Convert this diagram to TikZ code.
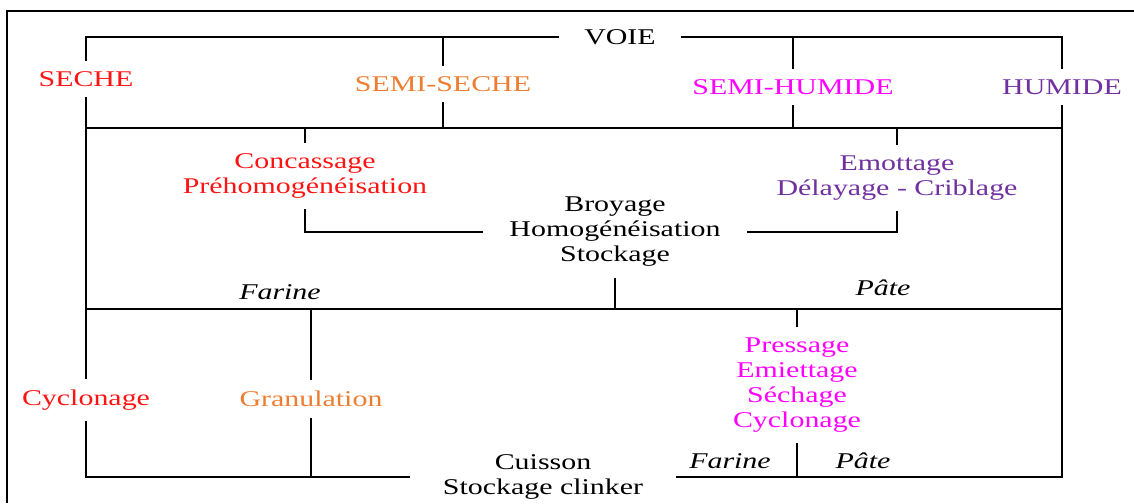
\documentclass[tikz,border=0pt]{standalone}
\usepackage{fontspec}
\setmainfont{Liberation Serif}[FakeStretch=1.33]
\usepackage{tikz}

\definecolor{secred}{RGB}{255,20,20}
\definecolor{semiorange}{RGB}{237,125,49}
\definecolor{hummagenta}{RGB}{255,0,255}
\definecolor{humpurple}{RGB}{112,48,160}

\begin{document}
\begin{tikzpicture}[x=1pt, y=-1pt, line width=1.8pt,
    txt/.style={font=\fontsize{22.5}{25}\selectfont, align=center, inner xsep=2pt, inner ysep=10pt},
    lbl/.style={font=\fontsize{22.5}{25}\selectfont\itshape, inner sep=0pt}]

	\useasboundingbox (0,0) rectangle (1134,503);
	\draw (7,503) -- (7,11) -- (1134,11);

	\coordinate (h2) at (0,128);
	\coordinate (h3) at (0,309);

	\node[txt, inner xsep=24pt] (voie) at (620,37) {VOIE};
	\node[txt, text=secred] (seche) at (86,79) {SECHE};
	\node[txt, text=semiorange] (semiseche) at (443,84) {SEMI-SECHE};
	\node[txt, text=hummagenta] (semihumide) at (793,87) {SEMI-HUMIDE};
	\node[txt, text=humpurple] (humide) at (1062,87) {HUMIDE};

	\node[txt, text=secred] (concass) at (305,176) {Concassage\\Préhomogénéisation};
	\node[txt, text=humpurple] (emott) at (897,178) {Emottage\\Délayage - Criblage};
	\node[txt, inner xsep=26pt] (broyage) at (615,232) {Broyage\\Homogénéisation\\Stockage};

	\node[lbl] (farine1) at (280,292) {Farine};
	\node[lbl] (pate1) at (883,288) {Pâte};

	\node[txt, text=secred] (cyclo) at (86,400) {Cyclonage};
	\node[txt, text=semiorange] (granul) at (311,399) {Granulation};
	\node[txt, text=hummagenta] (press) at (797,385) {Pressage\\Emiettage\\Séchage\\Cyclonage};
	\node[txt, inner xsep=32pt] (cuisson) at (543,477) {Cuisson\\Stockage clinker};

	\node[lbl] (farine2) at (730,461) {Farine};
	\node[lbl] (pate2) at (863,461) {Pâte};

	\draw (seche) |- (voie);
	\draw (humide) |- (voie);
	\draw (semiseche) -- (semiseche |- voie);
	\draw (semihumide) -- (semihumide |- voie);
	\draw (semiseche) -- (semiseche |- h2);
	\draw (semihumide) -- (semihumide |- h2);
	\draw (seche |- h2) -- (humide |- h2);

	\draw (concass) -- (concass |- h2);
	\draw (emott) -- (emott |- h2);
	\draw (concass) |- (broyage);
	\draw (emott) |- (broyage);
	\draw (broyage) -- (broyage |- h3);
	\draw (seche |- h3) -- (humide |- h3);

	\draw (seche) -- (cyclo);
	\draw (cyclo) |- (cuisson);
	\draw (humide) |- (cuisson);
	\draw (granul) -- (granul |- h3);
	\draw (granul) -- (granul |- cuisson);
	\draw (press) -- (press |- h3);
	\draw (press) -- (press |- cuisson);
\end{tikzpicture}
\end{document}
